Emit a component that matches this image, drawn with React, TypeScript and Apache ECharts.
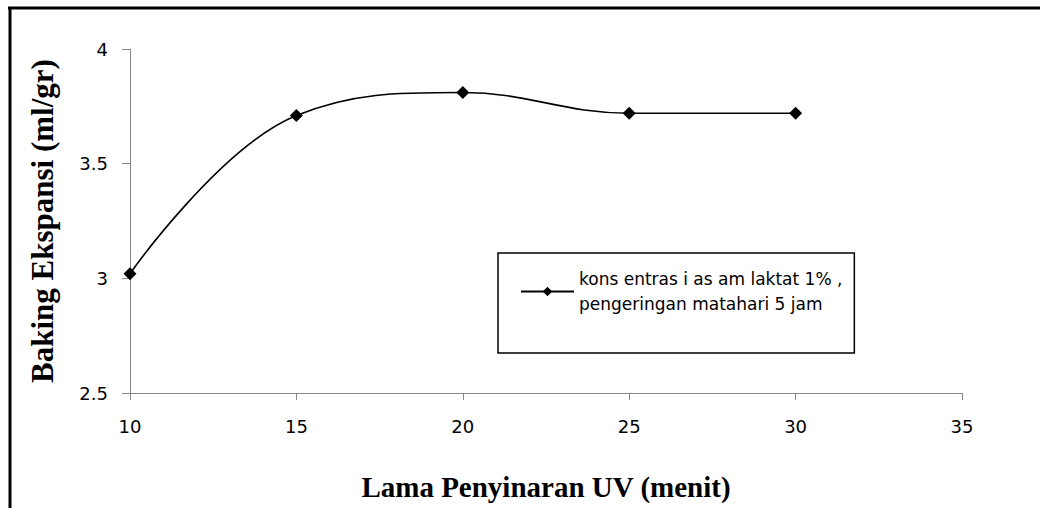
import React, { useEffect, useRef } from "react";
import * as echarts from "echarts";

const xValues = [10, 15, 20, 25, 30];
const yValues = [3.02, 3.71, 3.81, 3.72, 3.72];
const seriesName = "kons entras i as am laktat 1% ,\npengeringan matahari 5 jam";
const xAxisTitle = "Lama Penyinaran UV (menit)";
const yAxisTitle = "Baking Ekspansi (ml/gr)";

export default function App() {
  const ref = useRef<HTMLDivElement>(null);
  useEffect(() => {
    if (!ref.current) return;
    const chart = echarts.init(ref.current, null, { renderer: "svg" });
    chart.setOption({
      animation: false,
      backgroundColor: "#ffffff",
      grid: { left: 130, right: 78, top: 49, bottom: 115 },
      xAxis: {
        type: "value",
        min: 10,
        max: 35,
        interval: 5,
        name: xAxisTitle,
        nameLocation: "middle",
        nameGap: 79,
        nameTextStyle: { fontFamily: "Liberation Serif", fontWeight: "bold", fontSize: 29, color: "#000" },
        axisLine: { show: true, lineStyle: { color: "#868686", width: 1 } },
        axisTick: { show: true, length: 7, lineStyle: { color: "#868686" } },
        axisLabel: { margin: 24, fontFamily: "DejaVu Sans", fontSize: 18, color: "#000" },
        splitLine: { show: false },
      },
      yAxis: {
        type: "value",
        min: 2.5,
        max: 4,
        interval: 0.5,
        name: yAxisTitle,
        nameLocation: "middle",
        nameGap: 72,
        nameTextStyle: { fontFamily: "Liberation Serif", fontWeight: "bold", fontSize: 31, color: "#000" },
        axisLine: { show: true, lineStyle: { color: "#868686", width: 1 } },
        axisTick: { show: true, length: 8, lineStyle: { color: "#868686" } },
        axisLabel: { margin: 22, fontFamily: "DejaVu Sans", fontSize: 18, color: "#000" },
        splitLine: { show: false },
      },
      legend: {
        left: 498,
        top: 253,
        orient: "vertical",
        borderColor: "#000",
        borderWidth: 1.5,
        padding: [1, 12, 24, 22],
        itemWidth: 53,
        itemHeight: 12,
        itemGap: 0,
        data: [seriesName],
        textStyle: {
          fontFamily: "DejaVu Sans",
          fontSize: 17,
          color: "#000",
          lineHeight: 25,
          padding: [25, 0, 0, 0],
        },
      },
      graphic: [
        { type: "line", shape: { x1: 10, y1: 7, x2: 10, y2: 508 }, style: { stroke: "#000", lineWidth: 3 } },
        { type: "line", shape: { x1: 8, y1: 8, x2: 1040, y2: 8 }, style: { stroke: "#000", lineWidth: 3 } },
      ],
      series: [
        {
          name: seriesName,
          type: "line",
          smooth: 0.4,
          data: xValues.map((x, i) => [x, yValues[i]]),
          symbol: "diamond",
          symbolSize: 13,
          itemStyle: { color: "#000" },
          lineStyle: { color: "#000", width: 1.6 },
        },
      ],
    });
    return () => chart.dispose();
  }, []);
  return (
    <div
      ref={ref}
      style={{ position: "fixed", left: 0, top: 0, width: 1040, height: 508, background: "#fff" }}
    />
  );
}
